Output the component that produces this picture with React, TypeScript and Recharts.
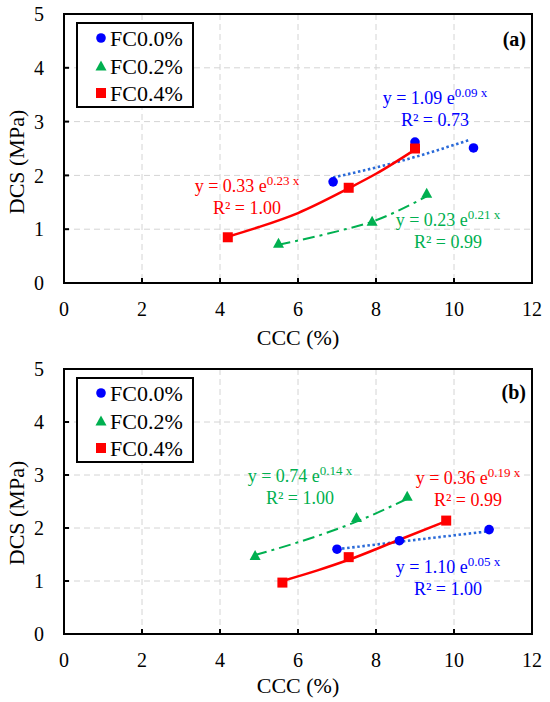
import React from "react";
import { ComposedChart, Line, Scatter, XAxis, YAxis, CartesianGrid, ReferenceArea } from "recharts";

const xTicks = [0, 2, 4, 6, 8, 10, 12];
const yTicks = [0, 1, 2, 3, 4, 5];
const seriesNames = ["FC0.0%", "FC0.2%", "FC0.4%"];

// panel (a) – measured points
const aFc00X = [6.9, 9.0, 10.5];
const aFc00Y = [1.88, 2.62, 2.51];
const aFc02X = [5.5, 7.9, 9.3];
const aFc02Y = [0.74, 1.15, 1.67];
const aFc04X = [4.2, 7.3, 9.0];
const aFc04Y = [0.85, 1.77, 2.5];
// panel (a) – trend lines
const aFit00X = [6.9, 8.7, 10.4];
const aFit00Y = [1.96, 2.28, 2.66];
const aFit02X = [5.5, 7.0, 7.9, 9.3];
const aFit02Y = [0.71, 0.96, 1.14, 1.61];
const aFit04X = [4.2, 5.0, 6.0, 7.3, 8.0, 9.0];
const aFit04Y = [0.86, 1.04, 1.3, 1.76, 2.03, 2.48];

// panel (b) – measured points
const bFc00X = [7.0, 8.6, 10.9];
const bFc00Y = [1.6, 1.76, 1.97];
const bFc02X = [4.9, 7.5, 8.8];
const bFc02Y = [1.48, 2.2, 2.6];
const bFc04X = [5.6, 7.3, 9.8];
const bFc04Y = [0.97, 1.45, 2.14];
// panel (b) – trend lines
const bFit00X = [7.0, 8.6, 10.9];
const bFit00Y = [1.6, 1.74, 1.94];
const bFit02X = [4.9, 6.0, 7.5, 8.8];
const bFit02Y = [1.49, 1.73, 2.12, 2.55];
const bFit04X = [5.6, 6.5, 7.3, 8.5, 9.8];
const bFit04Y = [1.0, 1.2, 1.4, 1.75, 2.13];

// fitted equations
const aEqs = ["y = 1.09 e|0.09 x|R² = 0.73", "y = 0.23 e|0.21 x|R² = 0.99", "y = 0.33 e|0.23 x|R² = 1.00"];
const bEqs = ["y = 1.10 e|0.05 x|R² = 1.00", "y = 0.74 e|0.14 x|R² = 1.00", "y = 0.36 e|0.19 x|R² = 0.99"];

const BLUE = "#0000ff";
const DOTBLUE = "#2a6ad8";
const GREEN = "#00b050";
const RED = "#ff0000";
const FONT = "'Liberation Serif', 'Times New Roman', serif";

const zip = (xs: number[], ys: number[]) => xs.map((x, i) => ({ x, y: ys[i] }));

const CircleMark = (p: any) => <circle cx={p.cx} cy={p.cy} r={4.8} fill={BLUE} />;
const TriMark = (p: any) => (
  <polygon points={`${p.cx},${p.cy - 5.5} ${p.cx - 5.5},${p.cy + 4.5} ${p.cx + 5.5},${p.cy + 4.5}`} fill={GREEN} />
);
const SquareMark = (p: any) => <rect x={p.cx - 5} y={p.cy - 5} width={10} height={10} fill={RED} />;

type PanelProps = {
  height: number;
  marginTop: number;
  axisHeight: number;
  pts: { x: number; y: number }[][];
  fits: { x: number; y: number }[][];
};

function Panel({ height, marginTop, axisHeight, pts, fits }: PanelProps) {
  const tickStyle = { fill: "#000", fontSize: 20, fontFamily: FONT };
  return (
    <ComposedChart width={550} height={height} margin={{ top: marginTop, right: 18, left: 0, bottom: 0 }}>
      <CartesianGrid stroke="#d4d4d4" strokeDasharray="6 4" strokeWidth={1} />
      <XAxis
        type="number"
        dataKey="x"
        domain={[0, 12]}
        ticks={xTicks}
        height={axisHeight}
        tickSize={-5}
        tickMargin={24}
        axisLine={{ stroke: "#000", strokeWidth: 2 }}
        tickLine={{ stroke: "#000", strokeWidth: 2 }}
        tick={tickStyle}
        allowDataOverflow
      />
      <YAxis
        type="number"
        domain={[0, 5]}
        ticks={yTicks}
        width={64}
        tickSize={-5}
        tickMargin={25}
        axisLine={{ stroke: "#000", strokeWidth: 2 }}
        tickLine={{ stroke: "#000", strokeWidth: 2 }}
        tick={tickStyle}
        allowDataOverflow
      />
      <ReferenceArea x1={0} x2={12} y1={0} y2={5} fill="none" stroke="#000" strokeWidth={2} />
      <Line data={fits[0]} dataKey="y" type="monotone" stroke={DOTBLUE} strokeWidth={2.6} strokeDasharray="2.5 2.6" dot={false} isAnimationActive={false} />
      <Line data={fits[1]} dataKey="y" type="monotone" stroke={GREEN} strokeWidth={2} strokeDasharray="12 5 3 5" dot={false} isAnimationActive={false} />
      <Line data={fits[2]} dataKey="y" type="monotone" stroke={RED} strokeWidth={2.5} dot={false} isAnimationActive={false} />
      <Scatter data={pts[0]} dataKey="y" shape={CircleMark} isAnimationActive={false} />
      <Scatter data={pts[1]} dataKey="y" shape={TriMark} isAnimationActive={false} />
      <Scatter data={pts[2]} dataKey="y" shape={SquareMark} isAnimationActive={false} />
    </ComposedChart>
  );
}

function Equation({ spec, cx, by, color }: { spec: string; cx: number; by: number; color: string }) {
  const [main, sup, r2] = spec.split("|");
  return (
    <g fill={color} fontFamily={FONT} textAnchor="middle">
      <text x={cx} y={by} fontSize={18}>
        {main}
        <tspan dy={-7} fontSize={13}>{sup}</tspan>
      </text>
      <text x={cx} y={by + 22} fontSize={18}>{r2}</text>
    </g>
  );
}

function LegendBox({ top }: { top: number }) {
  const rows = [top + 15, top + 43, top + 70];
  return (
    <g fontFamily={FONT}>
      <rect x={77} y={top} width={116} height={84} fill="#fff" stroke="#000" strokeWidth={2} />
      <CircleMark cx={101} cy={rows[0]} />
      <TriMark cx={101} cy={rows[1]} />
      <SquareMark cx={101} cy={rows[2]} />
      {seriesNames.map((n, i) => (
        <text key={n} x={110} y={rows[i] + 7.5} fontSize={22} fill="#000">{n}</text>
      ))}
    </g>
  );
}

export default function App() {
  return (
    <div style={{ position: "absolute", left: 0, top: 0, width: 550, height: 702, background: "#fff" }}>
      <div style={{ position: "absolute", left: 0, top: 0 }}>
        <Panel
          height={345}
          marginTop={14}
          axisHeight={62}
          pts={[zip(aFc00X, aFc00Y), zip(aFc02X, aFc02Y), zip(aFc04X, aFc04Y)]}
          fits={[zip(aFit00X, aFit00Y), zip(aFit02X, aFit02Y), zip(aFit04X, aFit04Y)]}
        />
      </div>
      <div style={{ position: "absolute", left: 0, top: 345 }}>
        <Panel
          height={357}
          marginTop={24}
          axisHeight={68}
          pts={[zip(bFc00X, bFc00Y), zip(bFc02X, bFc02Y), zip(bFc04X, bFc04Y)]}
          fits={[zip(bFit00X, bFit00Y), zip(bFit02X, bFit02Y), zip(bFit04X, bFit04Y)]}
        />
      </div>
      <svg width={550} height={702} style={{ position: "absolute", left: 0, top: 0, pointerEvents: "none" }}>
        <LegendBox top={23} />
        <LegendBox top={378} />
        <text x={526} y={46} fontFamily={FONT} fontSize={20} fontWeight="bold" textAnchor="end">(a)</text>
        <text x={526} y={399} fontFamily={FONT} fontSize={20} fontWeight="bold" textAnchor="end">(b)</text>
        <g fontFamily={FONT} fontSize={22} textAnchor="middle">
          <text x={298} y={345}>CCC (%)</text>
          <text x={298} y={693}>CCC (%)</text>
          <text transform="translate(24,162) rotate(-90)">DCS (MPa)</text>
          <text transform="translate(24,513) rotate(-90)">DCS (MPa)</text>
        </g>
        <Equation spec={aEqs[0]} cx={435} by={104} color={BLUE} />
        <Equation spec={aEqs[1]} cx={448} by={226} color={GREEN} />
        <Equation spec={aEqs[2]} cx={247} by={192} color={RED} />
        <Equation spec={bEqs[0]} cx={448} by={573} color={BLUE} />
        <Equation spec={bEqs[1]} cx={300} by={482} color={GREEN} />
        <Equation spec={bEqs[2]} cx={468} by={484} color={RED} />
      </svg>
    </div>
  );
}
